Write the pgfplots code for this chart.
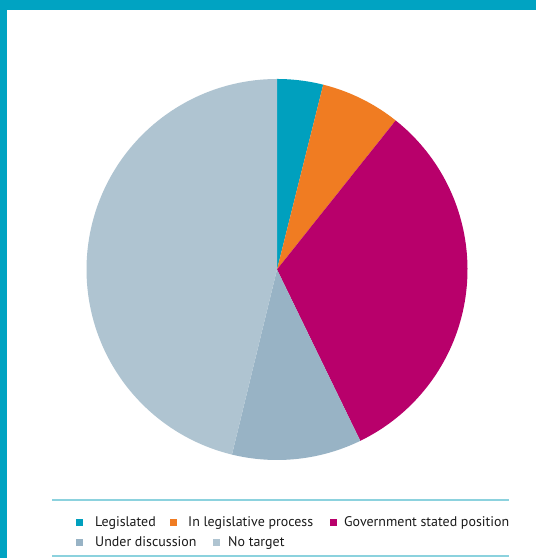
\documentclass[border=0pt]{standalone}
\usepackage{pgfplots}
\pgfplotsset{compat=1.18}
\usepackage{fontspec}
\setmainfont{PT Sans}
\definecolor{frame}{HTML}{00A3C2}
\definecolor{cLeg}{HTML}{00A0BE}
\definecolor{cProc}{HTML}{F07C22}
\definecolor{cGov}{HTML}{B8006B}
\definecolor{cDisc}{HTML}{98B3C5}
\definecolor{cNone}{HTML}{AFC4D1}
\definecolor{rulec}{HTML}{8CD2DE}
\definecolor{txt}{HTML}{1A1A1A}
% shares (percent)
\def\vLeg{3.9}
\def\vProc{6.8}
\def\vGov{32.1}
\def\vDisc{11.0}
\def\vNone{46.2}
\pgfmathsetmacro{\aA}{90}
\pgfmathsetmacro{\aB}{\aA-3.6*\vLeg}
\pgfmathsetmacro{\aC}{\aB-3.6*\vProc}
\pgfmathsetmacro{\aD}{\aC-3.6*\vGov}
\pgfmathsetmacro{\aE}{\aD-3.6*\vDisc}
\pgfmathsetmacro{\aF}{\aE-3.6*\vNone}
\begin{document}
\begin{tikzpicture}[x=1bp,y=1bp]
\fill[white] (0,0) rectangle (536,558);
\fill[frame] (0,0) rectangle (7,558);
\fill[frame] (0,548) rectangle (536,558);
\begin{axis}[at={(277bp,288.5bp)}, anchor=center, width=381bp, height=381bp,
  scale only axis, xmin=-1, xmax=1, ymin=-1, ymax=1, hide axis, clip=false]
\addplot[fill=cLeg, draw=none, domain=\aB:\aA, samples=30, variable=\t] ({cos(\t)},{sin(\t)}) -- (axis cs:0,0) -- cycle;
\addplot[fill=cProc, draw=none, domain=\aC:\aB, samples=30, variable=\t] ({cos(\t)},{sin(\t)}) -- (axis cs:0,0) -- cycle;
\addplot[fill=cGov, draw=none, domain=\aD:\aC, samples=80, variable=\t] ({cos(\t)},{sin(\t)}) -- (axis cs:0,0) -- cycle;
\addplot[fill=cDisc, draw=none, domain=\aE:\aD, samples=40, variable=\t] ({cos(\t)},{sin(\t)}) -- (axis cs:0,0) -- cycle;
\addplot[fill=cNone, draw=none, domain=\aF:\aE, samples=100, variable=\t] ({cos(\t)},{sin(\t)}) -- (axis cs:0,0) -- cycle;
\end{axis}
% legend
\draw[rulec, line width=1.2bp] (52,58) -- (509,58);
\draw[rulec, line width=1.2bp] (52,2) -- (509,2);
\fontsize{14}{16}\selectfont
\fill[cLeg] (76,32) rectangle (83,39);
\node[txt, anchor=base west, inner sep=0pt] at (95,31.5) {Legislated};
\fill[cProc] (170,32) rectangle (177,39);
\node[txt, anchor=base west, inner sep=0pt] at (188,31.5) {In legislative process};
\fill[cGov] (330,32) rectangle (337,39);
\node[txt, anchor=base west, inner sep=0pt] at (344,31.5) {Government stated position};
\fill[cDisc] (76,11.5) rectangle (83,18.5);
\node[txt, anchor=base west, inner sep=0pt] at (95,11) {Under discussion};
\fill[cNone] (213,11.5) rectangle (220,18.5);
\node[txt, anchor=base west, inner sep=0pt] at (228,11) {No target};
\end{tikzpicture}
\end{document}
